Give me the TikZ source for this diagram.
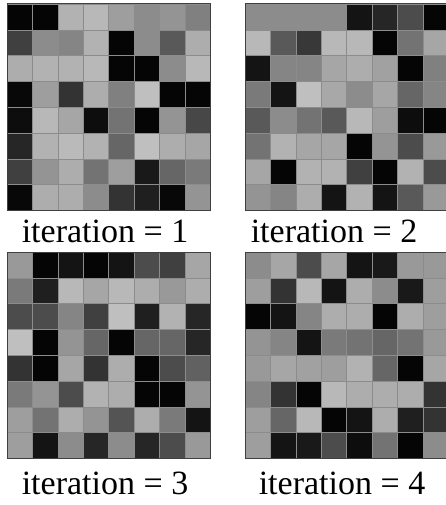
\documentclass[tikz,border=0pt]{standalone}
\usepackage{fontspec}
\setmainfont{Liberation Serif}
\begin{document}
\begin{tikzpicture}[x=1pt,y=-1pt,
  tileedge/.style={draw=black!45,line width=0.4pt},
  gridframe/.style={draw=black!75,line width=1pt},
  itlabel/.style={anchor=base,inner sep=0pt,font=\fontsize{34}{40}\selectfont}]
\useasboundingbox[fill=white] (0,0) rectangle (446,505);
% one 8x8 board of grey tiles; #1,#2 = top-left corner, #3 = rows of whiteness (percent)
\newcommand\tilegrid[3]{%
  \foreach \tilerow [count=\r from 0] in {#3} {
    \foreach \v [count=\c from 0] in \tilerow {
      \filldraw[tileedge,fill=white!\v!black]
        ({#1+\c*25.4},{#2+\r*25.8}) rectangle ++(25.4,25.8);
    }
  }
  \draw[gridframe] (#1,#2) rectangle ++(203.2,206.4);
}
\tilegrid{7}{4}{%
  {2,2,70,72,62,55,58,50},
  {25,55,52,70,2,55,35,68},
  {68,70,70,72,2,2,55,72},
  {3,62,20,68,50,75,2,2},
  {5,72,65,5,45,2,58,28},
  {15,70,73,70,40,75,68,65},
  {25,58,68,45,62,10,40,48},
  {3,68,68,55,20,12,3,58}}
\tilegrid{245}{4}{%
  {55,55,55,55,8,15,30,2},
  {72,35,22,72,72,2,45,65},
  {8,52,52,65,68,63,2,50},
  {48,8,75,66,55,65,40,52},
  {35,55,45,35,72,62,5,2},
  {45,70,65,65,2,58,30,60},
  {65,2,70,70,25,2,70,30},
  {58,52,68,8,70,8,35,60}}
\tilegrid{7}{252}{%
  {60,2,8,2,8,30,25,65},
  {48,12,72,65,72,68,60,68},
  {30,30,52,25,75,12,70,15},
  {75,2,58,40,2,40,40,15},
  {20,2,65,20,68,2,30,38},
  {48,58,30,70,68,2,2,58},
  {62,45,68,58,33,68,48,8},
  {62,8,55,15,55,15,30,60}}
\tilegrid{245}{252}{%
  {55,65,30,65,8,10,60,60},
  {62,20,72,8,68,55,10,62},
  {2,8,52,68,68,2,68,62},
  {58,52,8,48,45,40,45,60},
  {60,65,63,62,70,40,2,65},
  {52,20,2,72,68,68,68,20},
  {62,40,72,2,8,68,12,20},
  {62,8,10,30,5,45,2,55}}
\node[itlabel] (it1) at (105,242) {iteration = 1};
\node[itlabel] (it2) at (334,242) {iteration = 2};
\node[itlabel] (it3) at (105,494) {iteration = 3};
\node[itlabel] (it4) at (342,494) {iteration = 4};
\end{tikzpicture}
\end{document}
